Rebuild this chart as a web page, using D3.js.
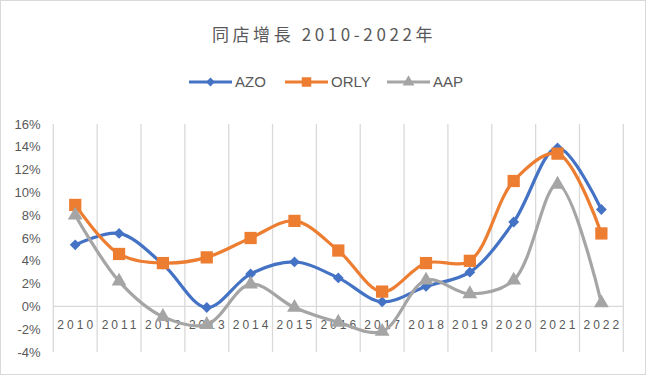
<!DOCTYPE html>
<html>
<head>
<meta charset="utf-8">
<script src="https://cdn.jsdelivr.net/npm/d3@7"></script>
<style>
  body { margin: 0; background: #fff; }
  text { font-family: "Liberation Sans", "Noto Sans", sans-serif; fill: #595959; }
</style>
</head>
<body>
<div id="chart"></div>
<script>
// data (% same-store growth)
var years = ["2010","2011","2012","2013","2014","2015","2016","2017","2018","2019","2020","2021","2022"]
var azo  = [5.4, 6.4, 3.7, -0.1, 2.85, 3.9, 2.5, 0.4, 1.75, 3.0, 7.4, 13.9, 8.5]
var orly = [8.9, 4.6, 3.8, 4.3, 6.0, 7.5, 4.9, 1.3, 3.8, 4.0, 11.0, 13.4, 6.4]
var aap  = [8.0, 2.2, -0.9, -1.6, 1.95, -0.1, -1.4, -2.2, 2.3, 1.1, 2.3, 10.7, 0.3]
var yTicks = [-4, -2, 0, 2, 4, 6, 8, 10, 12, 14, 16]

var series = [
  {name: "AZO", values: azo, color: "#4472C4", marker: "diamond"},
  {name: "ORLY", values: orly, color: "#ED7D31", marker: "square"},
  {name: "AAP", values: aap, color: "#A5A5A5", marker: "triangle"}
]

var width = 647, height = 376
var svg = d3.select("#chart").append("svg")
  .attr("width", width).attr("height", height)

svg.append("rect")
  .attr("x", 0.5).attr("y", 0.5)
  .attr("width", 645).attr("height", 374)
  .attr("fill", "#fff").attr("stroke", "#d9d9d9")

var x = d3.scaleBand().domain(years).range([53.3, 623.3])
var y = d3.scaleLinear().domain([-4, 16]).range([352, 124])

// vertical gridlines at band edges
var edges = years.map(d => x(d)).concat([x.range()[1]])
svg.append("g").selectAll("line").data(edges).enter().append("line")
  .attr("x1", d => d).attr("x2", d => d)
  .attr("y1", y(16)).attr("y2", y(-4))
  .attr("stroke", "#d9d9d9").attr("stroke-width", 1.3)

// zero axis
svg.append("line")
  .attr("x1", x.range()[0]).attr("x2", x.range()[1])
  .attr("y1", y(0)).attr("y2", y(0))
  .attr("stroke", "#d9d9d9").attr("stroke-width", 1.3)

// y labels
svg.append("g").selectAll("text").data(yTicks).enter().append("text")
  .attr("x", 40.5).attr("y", d => y(d))
  .attr("dy", "0.35em")
  .attr("text-anchor", "end")
  .style("font-size", "13px")
  .text(d => d + "%")

// x labels
svg.append("g").selectAll("text").data(years).enter().append("text")
  .attr("x", d => x(d) + x.bandwidth() / 2 + 1.5)
  .attr("y", y(0) + 23)
  .attr("text-anchor", "middle")
  .style("font-size", "12px")
  .style("letter-spacing", "3px")
  .text(d => d)

var line = d3.line()
  .x((d, i) => x(years[i]) + x.bandwidth() / 2)
  .y(d => y(d))
  .curve(d3.curveCatmullRom.alpha(0.5))

var symbols = {
  diamond: d3.symbol().type(d3.symbolDiamond2).size(75),
  square: d3.symbol().type(d3.symbolSquare).size(150),
  triangle: d3.symbol().type(d3.symbolTriangle).size(95)
}

series.forEach(function (s) {
  svg.append("path")
    .datum(s.values)
    .attr("d", line)
    .attr("fill", "none")
    .attr("stroke", s.color)
    .attr("stroke-width", 3.2)
})

series.forEach(function (s) {
  svg.append("g").selectAll("path").data(s.values).enter().append("path")
    .attr("transform", (d, i) => "translate(" + (x(years[i]) + x.bandwidth() / 2) + "," + y(d) + ")")
    .attr("d", symbols[s.marker])
    .attr("fill", s.color)
})

// title
svg.append("text")
  .attr("x", 324).attr("y", 41)
  .attr("text-anchor", "middle")
  .style("font-family", "'Noto Sans CJK TC', sans-serif")
  .style("font-size", "17px")
  .style("letter-spacing", "3.6px")
  .text("同店增長 2010-2022年")

// legend
var legendX = [189, 285, 387]
var legendSym = {
  diamond: d3.symbol().type(d3.symbolDiamond2).size(50),
  square: d3.symbol().type(d3.symbolSquare).size(90),
  triangle: d3.symbol().type(d3.symbolTriangle).size(60)
}
var lg = svg.append("g").selectAll("g").data(series).enter().append("g")
  .attr("transform", (d, i) => "translate(" + legendX[i] + ",82)")
lg.append("line")
  .attr("x1", 0).attr("x2", 43)
  .attr("stroke", d => d.color).attr("stroke-width", 3.2)
lg.append("path")
  .attr("transform", "translate(21.5,0)")
  .attr("d", d => legendSym[d.marker]())
  .attr("fill", d => d.color)
lg.append("text")
  .attr("x", 46).attr("dy", "0.36em")
  .style("font-size", "15px")
  .text(d => d.name)
</script>
</body>
</html>
